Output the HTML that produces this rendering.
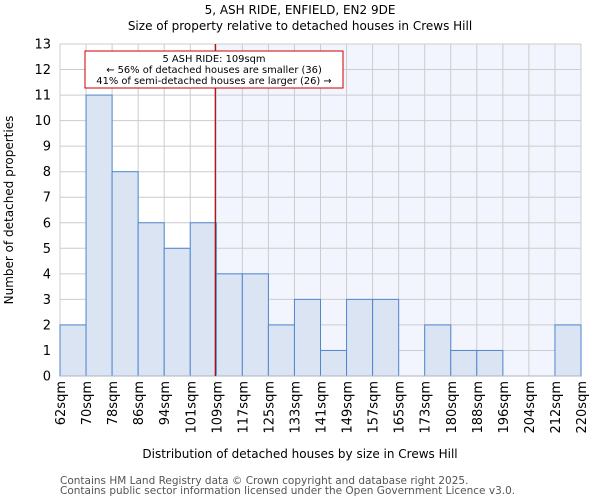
<!DOCTYPE html>
<html><head><meta charset="utf-8"><style>
body{margin:0;background:#fff;font-family:"DejaVu Sans","Liberation Sans",sans-serif;}
</style></head><body>
<svg id="chart" width="600" height="500" xmlns="http://www.w3.org/2000/svg" font-family="DejaVu Sans, Liberation Sans, sans-serif">
<text x="300" y="14" text-anchor="middle" font-size="12">5, ASH RIDE, ENFIELD, EN2 9DE</text>
<text x="300" y="30" text-anchor="middle" font-size="12">Size of property relative to detached houses in Crews Hill</text>
<g id="plot"></g>
<text x="300" y="458" text-anchor="middle" font-size="12">Distribution of detached houses by size in Crews Hill</text>
<text transform="translate(13,210) rotate(-90)" text-anchor="middle" font-size="12">Number of detached properties</text>
<text x="60" y="484" font-size="10.5" fill="#555">Contains HM Land Registry data © Crown copyright and database right 2025.</text>
<text x="60" y="494" font-size="10.5" fill="#555">Contains public sector information licensed under the Open Government Licence v3.0.</text>
</svg>
<script>
const binLabels=["62sqm","70sqm","78sqm","86sqm","94sqm","101sqm","109sqm","117sqm","125sqm","133sqm","141sqm","149sqm","157sqm","165sqm","173sqm","180sqm","188sqm","196sqm","204sqm","212sqm","220sqm"];
const counts=[2,11,8,6,5,6,4,4,2,3,1,3,3,0,2,1,1,0,0,2];
const yTicks=[0,1,2,3,4,5,6,7,8,9,10,11,12,13];
const propertyBin=6;
const NS="http://www.w3.org/2000/svg";
const L=60,R=581,T=44,B=376,YMAX=13;
const nb=counts.length;
const xs=i=>L+(R-L)*i/nb;
const ys=v=>B-(B-T)*v/YMAX;
const g=document.getElementById('plot');
function mk(tag,attrs){const e=document.createElementNS(NS,tag);for(const k in attrs)e.setAttribute(k,attrs[k]);g.appendChild(e);return e;}
let e=mk('rect',{x:xs(propertyBin),y:T,width:R-xs(propertyBin),height:B-T,fill:'#f2f5fd'});


yTicks.forEach(t=>{
 let l=mk('line',{x1:L,x2:R,y1:ys(t),y2:ys(t),stroke:'#cccccc','stroke-width':1});
 
 
 let tx=mk('text',{x:L-9,y:ys(t)+4.5,'text-anchor':'end','font-size':13});
 tx.textContent=t;
 
 
});
binLabels.forEach((s,i)=>{
 let l=mk('line',{x1:xs(i),x2:xs(i),y1:T,y2:B,stroke:'#cccccc','stroke-width':1});
 
 
 let tx=mk('text',{transform:`translate(${xs(i)+5},${B+5}) rotate(-90)`,'text-anchor':'end','font-size':13});
 tx.textContent=s;
 
 
});
counts.forEach((c,i)=>{
 if(c<=0)return;
 let r=mk('rect',{x:xs(i),y:ys(c),width:xs(i+1)-xs(i),height:B-ys(c),fill:'#dae4f3',stroke:'#4f86d0','stroke-width':1});
 
 
});
let ax=mk('line',{x1:L,x2:R,y1:B,y2:B,stroke:'#aab4c4','stroke-width':1});


let pl=mk('line',{x1:xs(propertyBin)-1,x2:xs(propertyBin)-1,y1:T,y2:B,stroke:'#aa0000','stroke-width':1.2});


let bx=mk('rect',{x:85,y:51,width:258,height:37,fill:'#fff',stroke:'#cc0000','stroke-width':1});


["5 ASH RIDE: 109sqm","← 56% of detached houses are smaller (36)","41% of semi-detached houses are larger (26) →"].forEach((s,i)=>{
 let t=mk('text',{x:214,y:62+i*11,'text-anchor':'middle','font-size':9.9});
 t.textContent=s;
 
 
});
</script>
</body></html>
